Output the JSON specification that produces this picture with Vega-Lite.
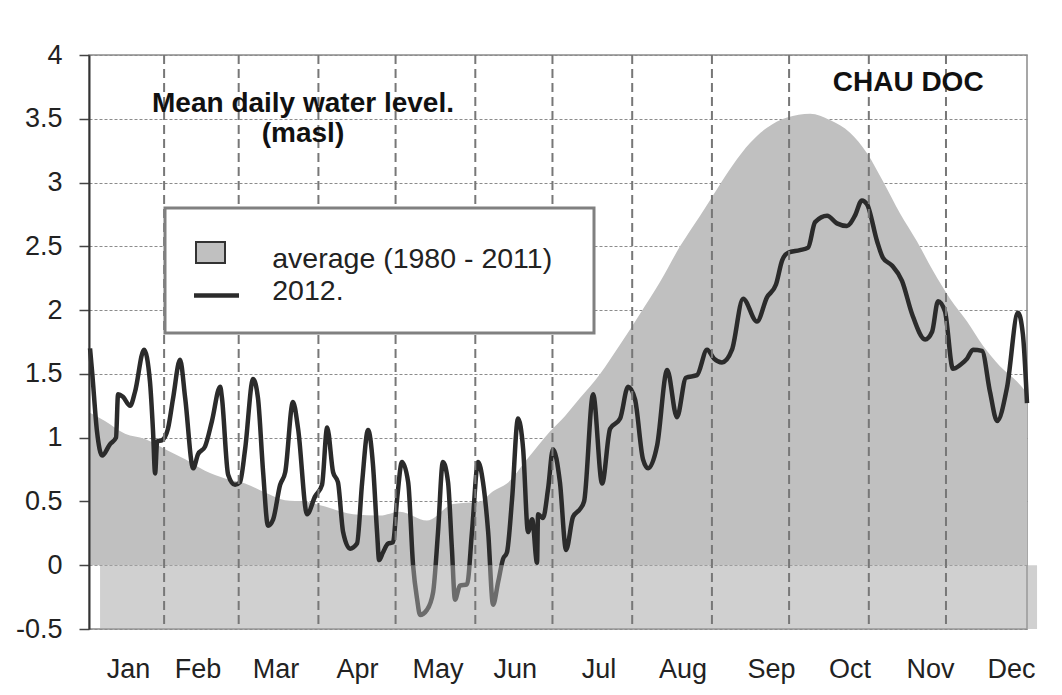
{
  "$schema": "https://vega.github.io/schema/vega-lite/v6.json",
  "width": 938,
  "height": 574,
  "autosize": {"type": "none"},
  "padding": {"left": 89, "top": 55, "right": 35, "bottom": 66},
  "background": "white",
  "config": {
    "font": "Liberation Sans",
    "view": {"stroke": "#8a8a8a", "strokeWidth": 1.5},
    "axis": {"labelFont": "Liberation Sans", "labelFontSize": 27, "labelColor": "#222222"}
  },
  "datasets": {
    "avg": [
      {"d": 1.8, "v": 1.20}, {"d": 8.0, "v": 1.13}, {"d": 15.8, "v": 1.03}, {"d": 23.6, "v": 0.99},
      {"d": 31.4, "v": 0.91}, {"d": 39.2, "v": 0.83}, {"d": 46.9, "v": 0.74}, {"d": 54.7, "v": 0.68},
      {"d": 62.5, "v": 0.64}, {"d": 70.3, "v": 0.57}, {"d": 78.0, "v": 0.51}, {"d": 85.8, "v": 0.50},
      {"d": 93.6, "v": 0.46}, {"d": 104.5, "v": 0.40}, {"d": 114.9, "v": 0.39}, {"d": 122.7, "v": 0.42},
      {"d": 133.2, "v": 0.35}, {"d": 143.3, "v": 0.48}, {"d": 153.8, "v": 0.50}, {"d": 158.9, "v": 0.58},
      {"d": 164.3, "v": 0.64}, {"d": 172.1, "v": 0.83}, {"d": 181.1, "v": 1.05}, {"d": 186.9, "v": 1.17},
      {"d": 192.7, "v": 1.31}, {"d": 200.5, "v": 1.50}, {"d": 208.3, "v": 1.73}, {"d": 216.0, "v": 1.97},
      {"d": 223.8, "v": 2.22}, {"d": 231.6, "v": 2.50}, {"d": 239.4, "v": 2.74}, {"d": 246.0, "v": 2.95},
      {"d": 252.2, "v": 3.14}, {"d": 258.8, "v": 3.31}, {"d": 265.4, "v": 3.43}, {"d": 273.2, "v": 3.51},
      {"d": 282.2, "v": 3.54}, {"d": 289.9, "v": 3.49}, {"d": 297.7, "v": 3.39}, {"d": 304.3, "v": 3.23},
      {"d": 310.5, "v": 3.01}, {"d": 317.1, "v": 2.76}, {"d": 323.7, "v": 2.54}, {"d": 329.9, "v": 2.31},
      {"d": 336.6, "v": 2.09}, {"d": 343.2, "v": 1.91}, {"d": 349.4, "v": 1.72}, {"d": 356.0, "v": 1.56},
      {"d": 362.6, "v": 1.44}, {"d": 366.5, "v": 1.35}
    ],
    "y2012": [
      {"d": 2.2, "v": 1.70}, {"d": 3.0, "v": 1.52}, {"d": 4.9, "v": 1.05}, {"d": 6.9, "v": 0.86},
      {"d": 10.0, "v": 0.95}, {"d": 12.3, "v": 1.00}, {"d": 13.1, "v": 1.34}, {"d": 15.0, "v": 1.32},
      {"d": 17.8, "v": 1.25}, {"d": 19.7, "v": 1.36}, {"d": 23.2, "v": 1.69}, {"d": 25.5, "v": 1.44},
      {"d": 26.7, "v": 1.05}, {"d": 27.5, "v": 0.72}, {"d": 28.3, "v": 0.97}, {"d": 30.2, "v": 0.98},
      {"d": 32.5, "v": 1.07}, {"d": 34.5, "v": 1.31}, {"d": 37.2, "v": 1.61}, {"d": 39.2, "v": 1.31},
      {"d": 42.3, "v": 0.76}, {"d": 44.2, "v": 0.87}, {"d": 46.9, "v": 0.93}, {"d": 49.6, "v": 1.13},
      {"d": 52.8, "v": 1.40}, {"d": 53.5, "v": 1.31}, {"d": 55.9, "v": 0.71}, {"d": 58.6, "v": 0.63},
      {"d": 60.5, "v": 0.65}, {"d": 62.5, "v": 0.91}, {"d": 65.6, "v": 1.46}, {"d": 67.5, "v": 1.31},
      {"d": 69.5, "v": 0.73}, {"d": 71.4, "v": 0.31}, {"d": 73.4, "v": 0.36}, {"d": 76.1, "v": 0.63},
      {"d": 78.1, "v": 0.73}, {"d": 81.1, "v": 1.28}, {"d": 83.1, "v": 1.07}, {"d": 86.6, "v": 0.40},
      {"d": 89.7, "v": 0.54}, {"d": 92.4, "v": 0.63}, {"d": 94.4, "v": 1.08}, {"d": 96.7, "v": 0.73},
      {"d": 98.6, "v": 0.65}, {"d": 100.6, "v": 0.26}, {"d": 103.3, "v": 0.13}, {"d": 106.0, "v": 0.17},
      {"d": 108.0, "v": 0.65}, {"d": 110.3, "v": 1.06}, {"d": 112.2, "v": 0.79}, {"d": 113.8, "v": 0.26},
      {"d": 114.6, "v": 0.04}, {"d": 116.1, "v": 0.10}, {"d": 118.1, "v": 0.17}, {"d": 120.0, "v": 0.18},
      {"d": 121.6, "v": 0.52}, {"d": 123.5, "v": 0.81}, {"d": 125.9, "v": 0.65}, {"d": 127.8, "v": 0.00},
      {"d": 129.4, "v": -0.27}, {"d": 130.5, "v": -0.39}, {"d": 133.2, "v": -0.35}, {"d": 135.6, "v": -0.21},
      {"d": 137.5, "v": 0.26}, {"d": 139.4, "v": 0.81}, {"d": 141.4, "v": 0.65}, {"d": 142.9, "v": 0.13},
      {"d": 144.1, "v": -0.27}, {"d": 146.0, "v": -0.16}, {"d": 148.8, "v": -0.15}, {"d": 150.7, "v": 0.26},
      {"d": 153.1, "v": 0.81}, {"d": 155.0, "v": 0.65}, {"d": 157.0, "v": 0.26}, {"d": 158.9, "v": -0.31},
      {"d": 160.9, "v": -0.13}, {"d": 162.8, "v": 0.05}, {"d": 164.3, "v": 0.10}, {"d": 166.3, "v": 0.52},
      {"d": 168.6, "v": 1.15}, {"d": 170.6, "v": 0.91}, {"d": 172.5, "v": 0.26}, {"d": 174.1, "v": 0.36},
      {"d": 176.0, "v": 0.02}, {"d": 176.4, "v": 0.40}, {"d": 178.3, "v": 0.37}, {"d": 180.3, "v": 0.60},
      {"d": 182.2, "v": 0.91}, {"d": 184.9, "v": 0.65}, {"d": 187.3, "v": 0.12}, {"d": 190.0, "v": 0.38},
      {"d": 192.7, "v": 0.44}, {"d": 194.3, "v": 0.50}, {"d": 197.8, "v": 1.34}, {"d": 201.3, "v": 0.64},
      {"d": 204.4, "v": 1.07}, {"d": 208.3, "v": 1.15}, {"d": 211.4, "v": 1.40}, {"d": 214.1, "v": 1.30},
      {"d": 217.2, "v": 0.83}, {"d": 219.2, "v": 0.76}, {"d": 222.7, "v": 0.94}, {"d": 226.6, "v": 1.53},
      {"d": 230.4, "v": 1.16}, {"d": 233.9, "v": 1.47}, {"d": 238.2, "v": 1.49}, {"d": 242.1, "v": 1.69},
      {"d": 244.8, "v": 1.62}, {"d": 247.9, "v": 1.59}, {"d": 251.8, "v": 1.69}, {"d": 256.1, "v": 2.09},
      {"d": 261.5, "v": 1.91}, {"d": 265.4, "v": 2.10}, {"d": 268.9, "v": 2.20}, {"d": 271.3, "v": 2.39},
      {"d": 273.6, "v": 2.45}, {"d": 278.2, "v": 2.47}, {"d": 281.4, "v": 2.49}, {"d": 284.1, "v": 2.69},
      {"d": 288.8, "v": 2.74}, {"d": 292.6, "v": 2.68}, {"d": 296.5, "v": 2.66}, {"d": 299.6, "v": 2.74},
      {"d": 302.3, "v": 2.86}, {"d": 304.3, "v": 2.83}, {"d": 308.2, "v": 2.54}, {"d": 310.5, "v": 2.41},
      {"d": 314.0, "v": 2.35}, {"d": 317.9, "v": 2.23}, {"d": 321.8, "v": 1.97}, {"d": 326.9, "v": 1.77},
      {"d": 329.6, "v": 1.83}, {"d": 331.9, "v": 2.07}, {"d": 334.6, "v": 1.99}, {"d": 337.7, "v": 1.54},
      {"d": 340.5, "v": 1.57}, {"d": 343.2, "v": 1.62}, {"d": 345.5, "v": 1.69}, {"d": 349.0, "v": 1.68},
      {"d": 352.1, "v": 1.36}, {"d": 354.9, "v": 1.13}, {"d": 358.7, "v": 1.39}, {"d": 363.0, "v": 1.98},
      {"d": 364.9, "v": 1.81}, {"d": 366.5, "v": 1.27}
    ],
    "months": [
      {"m": 31}, {"m": 60}, {"m": 91}, {"m": 121}, {"m": 152}, {"m": 182},
      {"m": 213}, {"m": 244}, {"m": 274}, {"m": 305}, {"m": 335}
    ]
  },
  "resolve": {"scale": {"y": "shared", "x": "shared"}, "axis": {"y": "independent"}},
  "layer": [
    {
      "data": {"name": "avg"},
      "mark": {"type": "area", "interpolate": "monotone", "color": "#c0c0c0"},
      "encoding": {
        "x": {
          "field": "d", "type": "quantitative",
          "scale": {"domain": [1.8, 366.5], "nice": false, "zero": false},
          "axis": {
            "values": [17, 44, 74.3, 106, 137.3, 167.3, 199.9, 232.6, 267, 297.5, 328.8, 360.3],
            "labelExpr": "['Jan','Feb','Mar','Apr','May','Jun','Jul','Aug','Sep','Oct','Nov','Dec'][floor(datum.value/30.5)]",
            "title": null, "grid": false, "ticks": false, "domain": false,
            "labelPadding": 27, "labelFlush": false, "labelOverlap": false
          }
        },
        "y": {
          "field": "v", "type": "quantitative",
          "scale": {"domain": [-0.5, 4], "nice": false, "zero": false},
          "axis": {
            "orient": "left",
            "values": [-0.5, 0, 0.5, 1, 1.5, 2, 2.5, 3, 3.5, 4],
            "grid": true, "gridColor": "#8c8c8c", "gridDash": [3, 2], "gridWidth": 1,
            "labels": false, "ticks": false, "domain": false, "title": null, "zindex": 0
          }
        },
        "y2": {"datum": 0}
      }
    },
    {
      "data": {"name": "y2012"},
      "mark": {"type": "line", "interpolate": "monotone", "strokeWidth": 4.5, "strokeJoin": "round"},
      "encoding": {
        "x": {"field": "d", "type": "quantitative"},
        "y": {
          "field": "v", "type": "quantitative",
          "axis": {
            "orient": "left",
            "values": [-0.5, 0, 0.5, 1, 1.5, 2, 2.5, 3, 3.5, 4],
            "labelExpr": "'' + datum.value",
            "grid": false, "title": null, "zindex": 1,
            "domainColor": "#333333", "domainWidth": 2,
            "tickColor": "#444444", "tickWidth": 1.5, "tickSize": 10,
            "labelPadding": 17, "labelFontSize": 27
          }
        },
        "color": {
          "datum": "2012.",
          "type": "nominal",
          "scale": {"domain": ["average (1980 - 2011)", "2012."], "range": ["#333333", "#2b2b2b"]},
          "legend": {
            "orient": "none", "legendX": 76, "legendY": 153,
            "title": ".", "titleOrient": "right", "titleColor": "#ffffff", "titleFontSize": 10, "titlePadding": 12,
            "labelFontSize": 28.5, "labelColor": "#222222", "labelFont": "Liberation Sans", "labelLimit": 700,
            "symbolSize": 841, "labelOffset": 52, "padding": 26.75, "rowPadding": 0,
            "fillColor": "#ffffff", "strokeColor": "#808080",
            "encode": {
              "legend": {"update": {"strokeWidth": {"value": 3}}},
              "labels": {"update": {"dy": {"signal": "datum.value === '2012.' ? 3.25 : 9.65"}}},
              "symbols": {"update": {
                "shape": {"signal": "datum.value === '2012.' ? 'stroke' : 'M-1,-0.72L1,-0.72L1,0.72L-1,0.72Z'"},
                "size": {"signal": "datum.value === '2012.' ? 2025 : 841"},
                "x": {"signal": "datum.value === '2012.' ? 24.75 : 18.75"},
                "y": {"signal": "datum.value === '2012.' ? 21.85 : 17.75"},
                "fill": {"signal": "datum.value === '2012.' ? 'transparent' : '#c0c0c0'"},
                "strokeWidth": {"signal": "datum.value === '2012.' ? 4.5 : 2"},
                "opacity": {"value": 1}
              }}
            }
          }
        }
      }
    },
    {
      "data": {"values": [{}]},
      "mark": {"type": "rect", "color": "#a6a6a6", "opacity": 0.53},
      "encoding": {
        "x": {"datum": 6.1, "type": "quantitative"},
        "x2": {"datum": 370.4},
        "y": {"datum": -0.5, "type": "quantitative", "axis": null},
        "y2": {"datum": 0}
      }
    },
    {
      "data": {"name": "months"},
      "mark": {"type": "rule", "color": "#777777", "strokeWidth": 2, "strokeDash": [9, 5]},
      "encoding": {
        "x": {"field": "m", "type": "quantitative"}
      }
    },
    {
      "data": {"values": [{}]},
      "mark": {"type": "text", "fontSize": 28, "fontWeight": "bold", "color": "#111111", "align": "center", "baseline": "alphabetic"},
      "encoding": {
        "x": {"datum": 85, "type": "quantitative"},
        "y": {"datum": 3.55, "type": "quantitative", "axis": null},
        "text": {"value": "Mean daily water level."}
      }
    },
    {
      "data": {"values": [{}]},
      "mark": {"type": "text", "fontSize": 28, "fontWeight": "bold", "color": "#111111", "align": "center", "baseline": "alphabetic"},
      "encoding": {
        "x": {"datum": 85, "type": "quantitative"},
        "y": {"datum": 3.32, "type": "quantitative", "axis": null},
        "text": {"value": "(masl)"}
      }
    },
    {
      "data": {"values": [{}]},
      "mark": {"type": "text", "fontSize": 28, "fontWeight": "bold", "color": "#111111", "align": "center", "baseline": "alphabetic"},
      "encoding": {
        "x": {"datum": 320.3, "type": "quantitative"},
        "y": {"datum": 3.72, "type": "quantitative", "axis": null},
        "text": {"value": "CHAU DOC"}
      }
    }
  ]
}
